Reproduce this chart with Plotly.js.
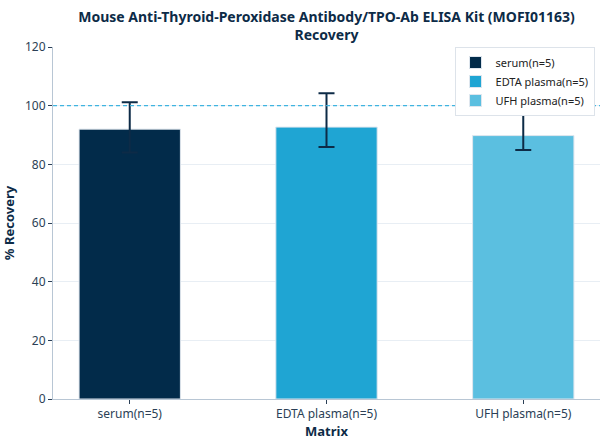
<!DOCTYPE html>
<html>
<head>
<meta charset="utf-8">
<script src="https://cdn.plot.ly/plotly-3.0.1.min.js"></script>
<style>
  html, body { margin: 0; padding: 0; background: #fff; }
  #chart { width: 608px; height: 444px; }
</style>
</head>
<body>
<div id="chart"></div>
<script>
// Recovery by matrix
var matrices = ["serum(n=5)", "EDTA plasma(n=5)", "UFH plasma(n=5)"];
var recovery = [92, 92.7, 89.8];
var errUp = [9.2, 11.5, 10.2];
var errDown = [8, 6.8, 4.9];
var barColors = ["#022b4a", "#1fa5d3", "#5bbfe0"];
var refLine = 100;

var navy = "#0d2b47";

var data = [];
for (let i = 0; i < matrices.length; i++)
{
	data.push({
		type: "bar",
		name: matrices[i],
		x: [matrices[i]],
		y: [recovery[i]],
		width: 0.515,
		marker: { color: barColors[i], line: { color: "#dfe6ee", width: 1 } },
		error_y: {
			type: "data",
			symmetric: false,
			array: [errUp[i]],
			arrayminus: [errDown[i]],
			color: navy,
			thickness: 2,
			width: 8
		},
		hoverinfo: "x+y"
	});
}

var layout = {
	width: 608,
	height: 444,
	margin: { t: 47, b: 45, l: 53, r: 8 },
	paper_bgcolor: "#fff",
	plot_bgcolor: "#fff",
	font: { family: "Noto Sans, Open Sans, sans-serif", size: 12, color: "#2b3f56" },
	title: {
		text: "<b>Mouse Anti-Thyroid-Peroxidase Antibody/TPO-Ab ELISA Kit (MOFI01163)<br>Recovery</b>",
		font: { size: 14, color: navy },
		x: 0.5,
		xanchor: "center",
		xref: "paper",
		yref: "container",
		y: 0.95,
		yanchor: "middle"
	},
	barmode: "group",
	showlegend: true,
	legend: {
		x: 0.99, y: 1.0,
		xanchor: "right", yanchor: "top",
		bgcolor: "#fff",
		bordercolor: "#dde3ea",
		borderwidth: 1,
		font: { size: 11, color: "#222" },
		itemwidth: 30
	},
	xaxis: {
		range: [-0.39, 2.39],
		showgrid: false,
		showline: true,
		linecolor: "#b8c6d4",
		linewidth: 1,
		ticks: "outside",
		ticklen: 4,
		tickcolor: "#2b3f56",
		tickfont: { size: 12, color: "#2b3f56" },
		title: { text: "<b>Matrix</b>", font: { size: 13, color: navy }, standoff: 4 }
	},
	yaxis: {
		range: [0, 120],
		dtick: 20,
		showgrid: true,
		gridcolor: "#e8eef4",
		zeroline: false,
		showline: true,
		linecolor: "#b8c6d4",
		linewidth: 1,
		ticks: "outside",
		ticklen: 4,
		tickcolor: "#2b3f56",
		tickfont: { size: 12, color: "#2b3f56" },
		title: { text: "<b>% Recovery</b>", font: { size: 13, color: navy }, standoff: 10 }
	},
	shapes: [{
		type: "line",
		layer: "above",
		xref: "paper", yref: "y",
		x0: 0, x1: 1,
		y0: refLine, y1: refLine,
		line: { color: "#3fb4e0", width: 1.3, dash: "4px,3px" }
	}]
};

Plotly.newPlot("chart", data, layout, { displayModeBar: false, staticPlot: true });
</script>
</body>
</html>
